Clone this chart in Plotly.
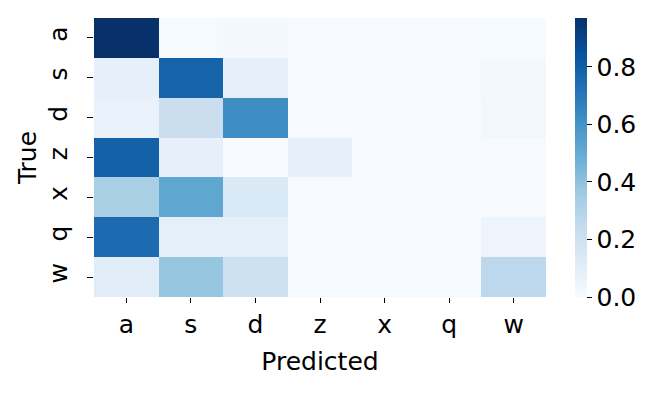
import plotly.graph_objects as go

labels = ['a', 's', 'd', 'z', 'x', 'q', 'w']

# rows = true class, columns = predicted class (normalised)
row_a = [0.97, 0.01, 0.02, 0.005, 0.005, 0.005, 0.01]
row_s = [0.08, 0.78, 0.08, 0.005, 0.005, 0.005, 0.02]
row_d = [0.07, 0.22, 0.62, 0.005, 0.005, 0.005, 0.03]
row_z = [0.79, 0.08, 0.0, 0.08, 0.005, 0.005, 0.005]
row_x = [0.33, 0.52, 0.14, 0.005, 0.005, 0.005, 0.005]
row_q = [0.75, 0.09, 0.09, 0.005, 0.005, 0.005, 0.05]
row_w = [0.11, 0.38, 0.20, 0.005, 0.005, 0.005, 0.27]

cm = [row_a, row_s, row_d, row_z, row_x, row_q, row_w]

blues = ['#f7fbff', '#deebf7', '#c6dbef', '#9ecae1', '#6baed6',
         '#4292c6', '#2171b5', '#08519c', '#08306b']
scale = [[i / (len(blues) - 1), c] for i, c in enumerate(blues)]

font = dict(family='DejaVu Sans', size=25, color='black')

fig = go.Figure()
fig.add_trace(go.Heatmap(
    z=cm, x=labels, y=labels,
    colorscale=scale, zmin=0, zmax=max(max(r) for r in cm),
    colorbar=dict(
        x=1.064, xanchor='left', y=0.5, yanchor='middle',
        len=1, lenmode='fraction', ypad=0, xpad=0,
        thickness=12, outlinewidth=0,
        tickvals=[0, 0.2, 0.4, 0.6, 0.8], tickformat='.1f',
        ticks='outside', ticklen=5, tickcolor='black',
        tickfont=font,
    ),
))

fig.update_xaxes(
    title=dict(text='Predicted', font=font, standoff=14),
    ticks='outside', ticklen=5, tickcolor='black', tickfont=font,
    ticklabelstandoff=0,
    showgrid=False, zeroline=False, showline=False, automargin=False,
)
fig.update_yaxes(
    title=dict(text='True', font=font, standoff=0),
    autorange='reversed', tickangle=-90,
    ticks='outside', ticklen=6, tickcolor='black', tickfont=font,
    ticklabelstandoff=10,
    showgrid=False, zeroline=False, showline=False, automargin=False,
)

# page body has an 8px margin, so the figure is drawn 8px in from the corner
fig.update_layout(
    width=656, height=385,
    margin=dict(l=86, r=118, t=10, b=96, autoexpand=False),
    plot_bgcolor='white', paper_bgcolor='white',
    font=font,
)

fig.write_html("out.html")
